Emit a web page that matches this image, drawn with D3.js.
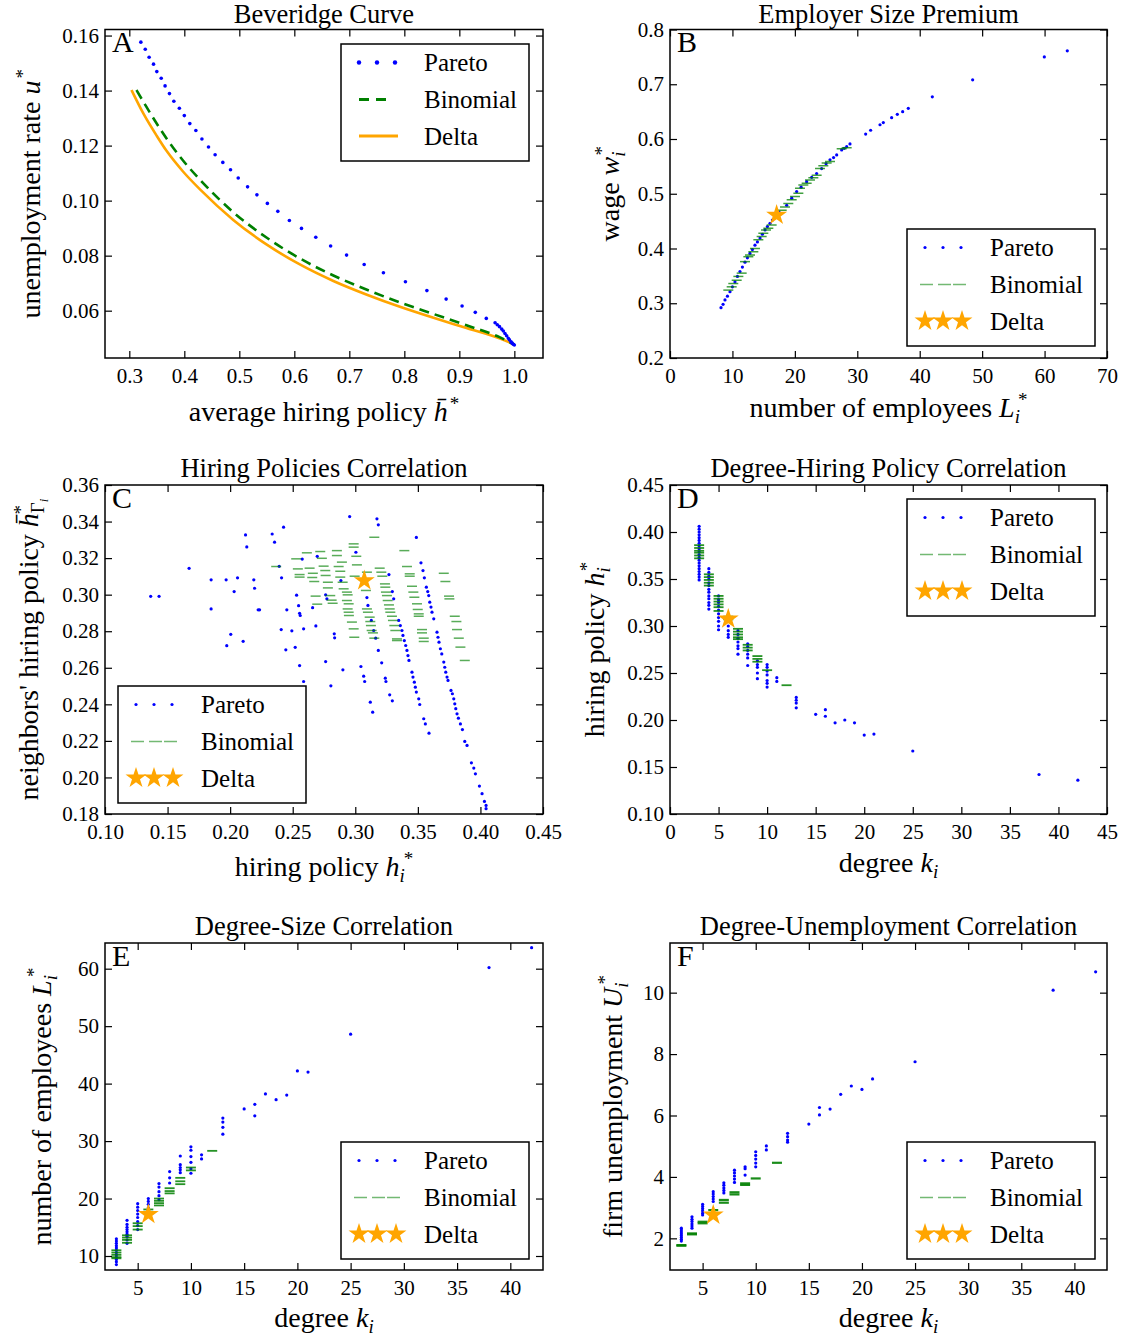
<!DOCTYPE html>
<html>
<head>
<meta charset="utf-8">
<script src="https://cdn.jsdelivr.net/npm/d3@7"></script>
<style>
body { margin: 0; background: #fff; }
svg text { font-family: "Liberation Serif", "Times New Roman", serif; fill: #000; }
</style>
</head>
<body>
<svg id="chart"></svg>
<script>

// ---------- data ----------

var seriesNames = ["Pareto", "Binomial", "Delta"]

// A: Beveridge curve, u* against average hiring policy
var bevPareto = [[0.321,0.1576],[0.329,0.1550],[0.336,0.1521],[0.344,0.1496],[0.350,0.1469],[0.358,0.1445],[0.365,0.1417],[0.373,0.1389],[0.381,0.1361],[0.391,0.1336],[0.400,0.1309],[0.410,0.1280],[0.421,0.1255],[0.432,0.1224],[0.444,0.1195],[0.456,0.1167],[0.470,0.1139],[0.484,0.1112],[0.498,0.1082],[0.515,0.1050],[0.532,0.1021],[0.551,0.0990],[0.570,0.0961],[0.591,0.0928],[0.613,0.0899],[0.639,0.0867],[0.666,0.0835],[0.695,0.0802],[0.727,0.0768],[0.762,0.0738],[0.802,0.0705],[0.841,0.0673],[0.876,0.0642],[0.905,0.0617],[0.929,0.0594],[0.949,0.0572],[0.965,0.0556],[0.969,0.0549],[0.973,0.0542],[0.977,0.0533],[0.980,0.0526],[0.983,0.0517],[0.986,0.0509],[0.989,0.0500],[0.991,0.0494],[0.994,0.0487],[0.996,0.0482],[0.998,0.0478],[1.0,0.0475]]
var bevBinomial = [[0.313,0.1402],[0.338,0.1318],[0.368,0.1225],[0.398,0.1145],[0.429,0.1075],[0.489,0.0958],[0.550,0.0865],[0.610,0.0790],[0.671,0.0728],[0.732,0.0676],[0.792,0.0630],[0.853,0.0588],[0.913,0.0547],[0.974,0.0503],[1.0,0.0477]]
var bevDelta = [[0.304,0.1402],[0.326,0.1315],[0.350,0.1235],[0.368,0.1180],[0.398,0.1105],[0.429,0.1040],[0.489,0.0930],[0.550,0.0840],[0.610,0.0768],[0.671,0.0708],[0.732,0.0658],[0.792,0.0614],[0.853,0.0574],[0.913,0.0537],[0.974,0.0499],[1.0,0.0477]]

// B: wage against number of employees
var wagePareto = [[8.17,0.292],[8.5,0.298],[8.81,0.306],[9.2,0.313],[9.61,0.321],[10.0,0.330],[10.41,0.339],[10.8,0.349],[11.21,0.358],[11.6,0.366],[12.01,0.375],[12.4,0.383],[12.81,0.391],[13.2,0.398],[13.61,0.406],[14.0,0.412],[14.42,0.419],[14.8,0.426],[15.22,0.434],[15.6,0.440],[16.02,0.446],[16.4,0.452],[16.82,0.458],[17.5,0.466],[18.69,0.479],[19.5,0.492],[20.29,0.504],[21.0,0.512],[21.89,0.522],[22.7,0.530],[23.49,0.537],[24.29,0.546],[25.0,0.555],[25.63,0.562],[26.2,0.566],[26.70,0.571],[27.50,0.580],[27.9,0.583],[28.30,0.586],[28.83,0.591],[31.34,0.609],[32.14,0.616],[33.64,0.626],[34.17,0.630],[35.50,0.639],[36.41,0.645],[37.27,0.650],[38.17,0.656],[42.02,0.677],[48.48,0.708],[59.96,0.750],[63.64,0.761]]
var wageBinomial = [[9.34,0.324],[9.88,0.330],[10.14,0.336],[10.68,0.342],[10.95,0.349],[11.48,0.355],[12.01,0.376],[12.55,0.385],[12.81,0.388],[13.35,0.394],[13.61,0.400],[14.15,0.416],[14.68,0.422],[14.95,0.428],[15.38,0.434],[15.75,0.437],[16.28,0.443],[17.89,0.470],[18.42,0.476],[18.95,0.482],[19.49,0.489],[20.02,0.495],[20.56,0.501],[20.82,0.510],[21.36,0.516],[21.89,0.519],[22.42,0.525],[22.96,0.529],[23.49,0.534],[24.03,0.546],[24.56,0.551],[25.09,0.556],[25.63,0.559],[27.50,0.582],[28.30,0.584]]
var wageDelta = [[17.08,0.461]]

// C: neighbours' hiring policy against own hiring policy
var nbrPareto = [[0.1365,0.2991],[0.1432,0.2991],[0.1672,0.3144],[0.1848,0.3081],[0.1848,0.2922],[0.1968,0.3081],[0.2005,0.2783],[0.1973,0.2721],[0.2059,0.3092],[0.2032,0.3017],[0.2104,0.2745],[0.2123,0.3327],[0.2133,0.3261],[0.2189,0.3081],[0.2195,0.3035],[0.2224,0.2917],[0.2235,0.2917],[0.2336,0.3332],[0.2355,0.3287],[0.2427,0.3369],[0.2392,0.3155],[0.2411,0.3092],[0.2408,0.2809],[0.2445,0.2698],[0.2453,0.2917],[0.2493,0.2802],[0.2520,0.2712],[0.2531,0.2997],[0.2547,0.2940],[0.2555,0.2898],[0.2560,0.2886],[0.2555,0.2612],[0.2576,0.3195],[0.2587,0.2813],[0.2587,0.2525],[0.2659,0.2929],[0.2685,0.2829],[0.2696,0.3210],[0.2763,0.2999],[0.2773,0.2977],[0.2763,0.2634],[0.2805,0.2501],[0.2832,0.2786],[0.2835,0.2764],[0.2885,0.3077],[0.2901,0.2589],[0.2955,0.3427],[0.3005,0.3232],[0.3045,0.2607],[0.3067,0.2554],[0.3075,0.2525],[0.3093,0.2984],[0.3101,0.2941],[0.3120,0.2412],[0.3139,0.2357],[0.3128,0.2859],[0.3147,0.2804],[0.3163,0.2762],[0.3184,0.2695],[0.3173,0.3415],[0.3184,0.3382],[0.3211,0.2627],[0.3240,0.2543],[0.3245,0.2525],[0.3269,0.3110],[0.3275,0.2452],[0.3296,0.2419],[0.3296,0.3017],[0.3307,0.2977],[0.3347,0.2859],[0.3360,0.2831],[0.3373,0.2804],[0.3381,0.2777],[0.3392,0.2749],[0.3403,0.2722],[0.3413,0.2695],[0.3421,0.2667],[0.3429,0.2640],[0.3453,0.2576],[0.3461,0.2549],[0.3472,0.2521],[0.3480,0.2494],[0.3488,0.2467],[0.3507,0.2430],[0.3515,0.2399],[0.3488,0.3313],[0.3525,0.3174],[0.3541,0.3132],[0.3552,0.3092],[0.3568,0.3041],[0.3579,0.3017],[0.3587,0.2995],[0.3595,0.2959],[0.3605,0.2932],[0.3613,0.2904],[0.3627,0.2868],[0.3547,0.2321],[0.3560,0.2293],[0.3589,0.2242],[0.3653,0.2795],[0.3661,0.2767],[0.3669,0.2740],[0.3680,0.2704],[0.3691,0.2676],[0.3707,0.2631],[0.3715,0.2603],[0.3723,0.2576],[0.3733,0.2549],[0.3741,0.2531],[0.3765,0.2476],[0.3776,0.2458],[0.3787,0.2430],[0.3795,0.2403],[0.3803,0.2376],[0.3813,0.2348],[0.3824,0.2324],[0.3840,0.2293],[0.3856,0.2262],[0.3875,0.2197],[0.3893,0.2175],[0.3928,0.2080],[0.3947,0.2051],[0.3960,0.2020],[0.3992,0.1953],[0.4013,0.1911],[0.4032,0.1869],[0.4045,0.1847],[0.4045,0.1829]]
var nbrBinomial = [[0.3152,0.3314],[0.2987,0.3278],[0.2987,0.3260],[0.2613,0.3229],[0.2720,0.3236],[0.2853,0.3241],[0.3392,0.3241],[0.2853,0.3214],[0.3008,0.3210],[0.2528,0.3196],[0.2733,0.3199],[0.3013,0.3163],[0.2893,0.3178],[0.2368,0.3154],[0.2541,0.3141],[0.2635,0.3145],[0.2747,0.3156],[0.2867,0.3154],[0.3195,0.3145],[0.3413,0.3154],[0.2555,0.3110],[0.2661,0.3117],[0.2760,0.3132],[0.2880,0.3128],[0.3093,0.3123],[0.3208,0.3123],[0.3435,0.3114],[0.3707,0.3117],[0.2555,0.3096],[0.2656,0.3094],[0.2763,0.3105],[0.2880,0.3096],[0.2995,0.3101],[0.3216,0.3101],[0.3435,0.3101],[0.3720,0.3072],[0.2672,0.3072],[0.2781,0.3068],[0.2899,0.3068],[0.3237,0.3059],[0.2781,0.3037],[0.2907,0.3032],[0.3240,0.3041],[0.3453,0.3046],[0.2933,0.3014],[0.3085,0.3023],[0.3245,0.3014],[0.3464,0.3014],[0.2683,0.2992],[0.2800,0.2995],[0.2939,0.2999],[0.3253,0.2995],[0.3472,0.2986],[0.3749,0.2992],[0.2811,0.2970],[0.2933,0.2968],[0.3259,0.2968],[0.3752,0.2977],[0.2696,0.2948],[0.2819,0.2953],[0.2947,0.2950],[0.3269,0.2944],[0.3493,0.2950],[0.2939,0.2922],[0.3093,0.2922],[0.3275,0.2922],[0.3499,0.2919],[0.2947,0.2904],[0.3101,0.2904],[0.3280,0.2904],[0.3507,0.2895],[0.2949,0.2886],[0.3115,0.2877],[0.3293,0.2882],[0.3507,0.2882],[0.2973,0.2850],[0.3120,0.2853],[0.3301,0.2859],[0.3795,0.2882],[0.3125,0.2831],[0.3312,0.2831],[0.3808,0.2853],[0.2987,0.2813],[0.3131,0.2804],[0.3320,0.2804],[0.3533,0.2809],[0.3813,0.2809],[0.3141,0.2791],[0.3533,0.2791],[0.2992,0.2767],[0.3152,0.2762],[0.3333,0.2758],[0.3547,0.2762],[0.3827,0.2762],[0.3333,0.2749],[0.3547,0.2744],[0.3840,0.2713],[0.3875,0.2640]]
var nbrDelta = [[0.3072,0.3077]]

// D: hiring policy against degree
var hirePareto = [[3,0.406],[3,0.403],[3,0.400],[3,0.397],[3,0.394],[3,0.391],[3,0.388],[3,0.385],[3,0.382],[3,0.379],[3,0.376],[3,0.373],[3,0.370],[3,0.367],[3,0.364],[3,0.361],[3,0.358],[3,0.355],[3,0.352],[3,0.349],[4,0.361],[4,0.357],[4,0.353],[4,0.350],[4,0.346],[4,0.343],[4,0.339],[4,0.336],[4,0.332],[4,0.329],[4,0.325],[4,0.322],[4,0.318],[5,0.332],[5,0.328],[5,0.325],[5,0.321],[5,0.317],[5,0.313],[5,0.309],[5,0.305],[5,0.300],[5,0.296],[6,0.312],[6,0.306],[6,0.300],[6,0.295],[6,0.291],[6,0.288],[7,0.295],[7,0.291],[7,0.287],[7,0.283],[7,0.279],[7,0.276],[7,0.270],[8,0.281],[8,0.278],[8,0.274],[8,0.270],[8,0.266],[8,0.258],[9,0.263],[9,0.259],[9,0.256],[9,0.250],[9,0.244],[10,0.259],[10,0.256],[10,0.252],[10,0.248],[10,0.242],[10,0.239],[10,0.235],[11,0.245],[11,0.241],[13,0.224],[13,0.221],[13,0.218],[13,0.213],[15,0.206],[16,0.211],[16,0.204],[17,0.197],[18,0.200],[19,0.197],[20,0.184],[21,0.185],[25,0.167],[38,0.142],[42,0.136]]
var hireBinomial = [[3,0.386],[3,0.383],[3,0.380],[3,0.378],[3,0.375],[3,0.372],[4,0.355],[4,0.352],[4,0.349],[4,0.346],[4,0.343],[5,0.332],[5,0.329],[5,0.326],[5,0.323],[5,0.320],[5,0.316],[6,0.310],[6,0.307],[7,0.297],[7,0.294],[7,0.291],[7,0.288],[7,0.286],[8,0.280],[8,0.277],[8,0.274],[9,0.268],[9,0.265],[9,0.262],[10,0.253],[12,0.237]]
var hireDelta = [[6,0.3075]]

// E: number of employees against degree
var sizePareto = [[3,13.0],[3,12.6],[3,12.2],[3,11.8],[3,11.4],[3,11.0],[3,10.6],[3,10.2],[3,9.8],[3,9.4],[3,9.0],[3,8.5],[4,16.2],[4,15.5],[4,15.0],[4,14.6],[4,14.2],[4,13.8],[4,13.4],[4,12.8],[4,12.2],[5,19.1],[5,18.5],[5,17.9],[5,17.3],[5,16.7],[5,16.0],[5,15.3],[5,14.6],[6,20.0],[6,19.5],[6,19.0],[6,18.4],[6,17.8],[7,22.6],[7,22.0],[7,21.2],[7,20.5],[7,19.8],[8,24.7],[8,23.6],[8,22.7],[9,27.4],[9,25.9],[9,25.4],[9,25.0],[9,24.5],[10,29.0],[10,28.4],[10,27.3],[10,26.3],[10,25.2],[10,24.4],[11,27.6],[11,26.9],[13,34.0],[13,33.3],[13,32.4],[13,31.2],[15,35.6],[16,36.4],[16,34.4],[17,38.2],[18,37.2],[19,38.0],[20,42.2],[21,42.0],[25,48.6],[38,60.2],[42,63.65]]
var sizeBinomial = [[3,11.0],[3,10.6],[3,10.2],[3,9.8],[3,9.6],[4,13.6],[4,13.2],[4,12.8],[4,12.3],[5,15.7],[5,15.2],[5,14.6],[6,18.1],[7,20.0],[7,19.6],[7,19.2],[7,18.8],[8,21.8],[8,21.3],[8,20.9],[9,23.6],[9,23.0],[9,22.5],[10,25.4],[10,24.9],[12,28.3]]
var sizeDelta = [[6,17.25]]

// F: firm unemployment against degree
var unempPareto = [[3,2.33],[3,2.27],[3,2.21],[3,2.15],[3,2.09],[3,2.03],[3,1.97],[3,1.91],[4,2.70],[4,2.62],[4,2.55],[4,2.47],[4,2.40],[4,2.33],[5,3.11],[5,3.04],[5,2.97],[5,2.90],[5,2.82],[5,2.76],[6,3.52],[6,3.44],[6,3.36],[6,3.28],[6,3.20],[7,3.81],[7,3.73],[7,3.64],[7,3.56],[7,3.48],[8,4.22],[8,4.13],[8,4.03],[8,3.93],[8,3.82],[9,4.33],[9,4.27],[9,4.06],[10,4.82],[10,4.70],[10,4.58],[10,4.45],[10,4.33],[11,5.01],[11,4.88],[13,5.42],[13,5.31],[13,5.20],[13,5.13],[15,5.72],[16,6.26],[16,6.02],[17,6.21],[18,6.69],[19,6.96],[20,6.85],[21,7.19],[25,7.75],[38,10.08],[42,10.68]]
var unempBinomial = [[3,1.76],[3,1.78],[4,2.16],[4,2.13],[5,2.54],[5,2.49],[6,2.92],[7,3.25],[7,3.16],[8,3.50],[8,3.43],[9,3.79],[9,3.74],[10,3.95],[12,4.46]]
var unempDelta = [[6,2.76]]

// tick values
var ticksAx = [0.3,0.4,0.5,0.6,0.7,0.8,0.9,1.0]
var ticksAy = [0.06,0.08,0.10,0.12,0.14,0.16]
var ticksBx = [0,10,20,30,40,50,60,70]
var ticksBy = [0.2,0.3,0.4,0.5,0.6,0.7,0.8]
var ticksCx = [0.10,0.15,0.20,0.25,0.30,0.35,0.40,0.45]
var ticksCy = [0.18,0.20,0.22,0.24,0.26,0.28,0.30,0.32,0.34,0.36]
var ticksDx = [0,5,10,15,20,25,30,35,40,45]
var ticksDy = [0.10,0.15,0.20,0.25,0.30,0.35,0.40,0.45]
var ticksEx = [5,10,15,20,25,30,35,40]
var ticksEy = [10,20,30,40,50,60]
var ticksFx = [5,10,15,20,25,30,35,40]
var ticksFy = [2,4,6,8,10]


// ---------- drawing ----------

var svg = d3.select("#chart")
    .attr("width", 1132)
    .attr("height", 1337);

var serif = "'Liberation Serif', 'Times New Roman', serif"
var blue = "#0000ff"
var green = "#008000"
var orange = "#ffa500"
var star = d3.symbol().type(d3.symbolStar).size(136)

// writes a label made of plain / italic / shifted pieces
function writeMath(txt, parts) {
    var shift = 0;
    parts.forEach(function (p) {
        var s = p.s || 0;
        var ts = txt.append("tspan").text(p.t).attr("dy", s - shift);
        shift = s;
        if (p.i) ts.attr("font-style", "italic");
        if (p.f) ts.attr("font-size", p.f);
        if (p.dx) ts.attr("dx", p.dx);
    });
}

function drawPanel(p) {
    var x = d3.scaleLinear().domain(p.xd).range([p.l, p.r]);
    var y = d3.scaleLinear().domain(p.yd).range([p.b, p.t]);
    var g = svg.append("g");

    var clipId = "clip" + p.letter;
    g.append("clipPath").attr("id", clipId).append("rect")
        .attr("x", p.l).attr("y", p.t).attr("width", p.r - p.l).attr("height", p.b - p.t);
    var plot = g.append("g").attr("clip-path", "url(#" + clipId + ")");

    if (p.lines) {
        // Beveridge curve: pareto markers, binomial dashed, delta solid
        var line = d3.line().x(function (d) { return x(d[0]); }).y(function (d) { return y(d[1]); })
            .curve(d3.curveMonotoneX);
        plot.append("path").attr("d", line(p.delta)).attr("fill", "none")
            .attr("stroke", orange).attr("stroke-width", 2.6);
        plot.append("path").attr("d", line(p.binomial)).attr("fill", "none")
            .attr("stroke", green).attr("stroke-width", 2.6).attr("stroke-dasharray", "10,6");
        plot.selectAll(".par").data(p.pareto).enter().append("circle")
            .attr("cx", function (d) { return x(d[0]); })
            .attr("cy", function (d) { return y(d[1]); })
            .attr("r", 1.8).attr("fill", blue);
    } else {
        plot.selectAll(".par").data(p.pareto).enter().append("circle")
            .attr("cx", function (d) { return x(d[0]); })
            .attr("cy", function (d) { return y(d[1]); })
            .attr("r", 1.6).attr("fill", blue);
        plot.selectAll(".bin").data(p.binomial).enter().append("line")
            .attr("x1", function (d) { return x(d[0]) - 5; })
            .attr("x2", function (d) { return x(d[0]) + 5; })
            .attr("y1", function (d) { return y(d[1]); })
            .attr("y2", function (d) { return y(d[1]); })
            .attr("stroke", green).attr("stroke-width", p.binW).attr("stroke-opacity", p.binO);
        plot.selectAll(".del").data(p.delta).enter().append("path")
            .attr("d", star)
            .attr("transform", function (d) { return "translate(" + x(d[0]) + "," + y(d[1]) + ")"; })
            .attr("fill", orange);
    }

    // ticks inside on all four sides
    var ax = g.append("g").attr("transform", "translate(0," + p.b + ")")
        .call(d3.axisBottom(x).tickValues(p.xt).tickFormat(d3.format(p.xf)).tickSize(-7).tickPadding(10));
    var at = g.append("g").attr("transform", "translate(0," + p.t + ")")
        .call(d3.axisTop(x).tickValues(p.xt).tickFormat("").tickSize(-7));
    var ay = g.append("g").attr("transform", "translate(" + p.l + ",0)")
        .call(d3.axisLeft(y).tickValues(p.yt).tickFormat(d3.format(p.yf)).tickSize(-7).tickPadding(6));
    var ar = g.append("g").attr("transform", "translate(" + p.r + ",0)")
        .call(d3.axisRight(y).tickValues(p.yt).tickFormat("").tickSize(-7));
    [ax, at, ay, ar].forEach(function (a) {
        a.attr("font-size", 21).attr("font-family", serif);
        a.selectAll("text").style("font-family", serif);
        a.select(".domain").remove();
        a.selectAll("line").attr("stroke-width", 1.2);
    });

    g.append("rect").attr("x", p.l).attr("y", p.t)
        .attr("width", p.r - p.l).attr("height", p.b - p.t)
        .attr("fill", "none").attr("stroke", "black").attr("stroke-width", 1.5);

    // title, panel letter, axis labels
    g.append("text").attr("x", (p.l + p.r) / 2).attr("y", Math.max(p.t - 8, 23))
        .attr("text-anchor", "middle").attr("font-size", 26.5).text(p.title);
    g.append("text").attr("x", p.l + 7).attr("y", p.t + 22.5)
        .attr("font-size", 30).text(p.letter);
    writeMath(g.append("text").attr("x", (p.l + p.r) / 2).attr("y", p.xly)
        .attr("text-anchor", "middle").attr("font-size", 28), p.xl);
    writeMath(g.append("text").attr("transform", "translate(" + p.ylx + "," + ((p.t + p.b) / 2) + ") rotate(-90)")
        .attr("text-anchor", "middle").attr("font-size", 28), p.yl);

    drawLegend(p.leg[0], p.leg[1], p.lines);
}

function drawLegend(lx, ly, lines) {
    var g = svg.append("g");
    g.append("rect").attr("x", lx).attr("y", ly).attr("width", 188).attr("height", 117)
        .attr("fill", "white").attr("stroke", "black").attr("stroke-width", 1.5);
    var rows = [18.5, 55.5, 92];
    seriesNames.forEach(function (n, i) {
        g.append("text").attr("x", lx + 83).attr("y", ly + rows[i] + 8.5)
            .attr("font-size", 25).text(n);
    });
    var dx = [18, 36, 54];
    dx.forEach(function (d) {
        g.append("circle").attr("cx", lx + d).attr("cy", ly + rows[0])
            .attr("r", lines ? 2.2 : 1.6).attr("fill", blue);
    });
    if (lines) {
        g.append("line").attr("x1", lx + 18).attr("x2", lx + 50)
            .attr("y1", ly + rows[1]).attr("y2", ly + rows[1])
            .attr("stroke", green).attr("stroke-width", 3).attr("stroke-dasharray", "10,7");
        g.append("line").attr("x1", lx + 18).attr("x2", lx + 57)
            .attr("y1", ly + rows[2]).attr("y2", ly + rows[2])
            .attr("stroke", orange).attr("stroke-width", 3);
    } else {
        [13, 31, 46].forEach(function (d) {
            g.append("line").attr("x1", lx + d).attr("x2", lx + d + 13)
                .attr("y1", ly + rows[1]).attr("y2", ly + rows[1])
                .attr("stroke", green).attr("stroke-width", 1.5).attr("stroke-opacity", 0.55);
        });
        [18, 36, 55].forEach(function (d) {
            g.append("path").attr("d", star)
                .attr("transform", "translate(" + (lx + d) + "," + (ly + rows[2]) + ")")
                .attr("fill", orange);
        });
    }
}

var sub = function (t) { return {t: t, i: 1, s: 6, f: 19}; }
var sup = function (dx) { return {t: "*", s: -11, f: 19, dx: dx}; }

var panels = [
    {letter: "A", title: "Beveridge Curve", l: 105, r: 543, t: 29.5, b: 358,
     xd: [0.2558, 1.0521], yd: [0.0428, 0.1622], xt: ticksAx, yt: ticksAy, xf: ".1f", yf: ".2f",
     pareto: bevPareto, binomial: bevBinomial, delta: bevDelta, lines: true,
     xl: [{t: "average hiring policy "}, {t: "h\u0304", i: 1}, sup(2)], xly: 421,
     yl: [{t: "unemployment rate "}, {t: "u", i: 1}, sup(2)], ylx: 40, leg: [341, 44]},
    {letter: "B", title: "Employer Size Premium", l: 670, r: 1107, t: 29.5, b: 358,
     xd: [0, 70], yd: [0.2, 0.8], xt: ticksBx, yt: ticksBy, xf: "d", yf: ".1f",
     pareto: wagePareto, binomial: wageBinomial, delta: wageDelta, binW: 1.5, binO: 0.75,
     xl: [{t: "number of employees "}, {t: "L", i: 1}, sub("i"), sup(-2)], xly: 417,
     yl: [{t: "wage "}, {t: "w", i: 1}, sub("i"), sup(-4)], ylx: 619, leg: [907, 229]},
    {letter: "C", title: "Hiring Policies Correlation", l: 105, r: 543, t: 485, b: 814,
     xd: [0.10, 0.45], yd: [0.18, 0.36], xt: ticksCx, yt: ticksCy, xf: ".2f", yf: ".2f",
     pareto: nbrPareto, binomial: nbrBinomial, delta: nbrDelta, binW: 1.5, binO: 0.65,
     xl: [{t: "hiring policy "}, {t: "h", i: 1}, sub("i"), sup(-1)], xly: 876,
     yl: [{t: "neighbors' hiring policy "}, {t: "h\u0304", i: 1}, {t: "\u0393", s: 6, f: 19},
          {t: "i", i: 1, s: 10, f: 13}, {t: "*", s: -11, f: 19, dx: -16}], ylx: 38, leg: [118, 686]},
    {letter: "D", title: "Degree-Hiring Policy Correlation", l: 670, r: 1107, t: 485, b: 814,
     xd: [0, 45], yd: [0.10, 0.45], xt: ticksDx, yt: ticksDy, xf: "d", yf: ".2f",
     pareto: hirePareto, binomial: hireBinomial, delta: hireDelta, binW: 1.8, binO: 0.85,
     xl: [{t: "degree "}, {t: "k", i: 1}, sub("i")], xly: 872,
     yl: [{t: "hiring policy "}, {t: "h", i: 1}, sub("i"), sup(-4)], ylx: 604, leg: [907, 499]},
    {letter: "E", title: "Degree-Size Correlation", l: 105, r: 543, t: 943, b: 1270,
     xd: [1.93, 43.07], yd: [7.564, 64.47], xt: ticksEx, yt: ticksEy, xf: "d", yf: "d",
     pareto: sizePareto, binomial: sizeBinomial, delta: sizeDelta, binW: 1.8, binO: 0.85,
     xl: [{t: "degree "}, {t: "k", i: 1}, sub("i")], xly: 1327,
     yl: [{t: "number of employees "}, {t: "L", i: 1}, sub("i"), sup(-2)], ylx: 51, leg: [341, 1142]},
    {letter: "F", title: "Degree-Unemployment Correlation", l: 670, r: 1107, t: 943, b: 1270,
     xd: [1.93, 43.07], yd: [0.969, 11.617], xt: ticksFx, yt: ticksFy, xf: "d", yf: "d",
     pareto: unempPareto, binomial: unempBinomial, delta: unempDelta, binW: 2.2, binO: 0.9,
     xl: [{t: "degree "}, {t: "k", i: 1}, sub("i")], xly: 1327,
     yl: [{t: "firm unemployment "}, {t: "U", i: 1}, sub("i"), sup(-2)], ylx: 622, leg: [907, 1142]}
]

panels.forEach(drawPanel);

</script>
</body>
</html>
